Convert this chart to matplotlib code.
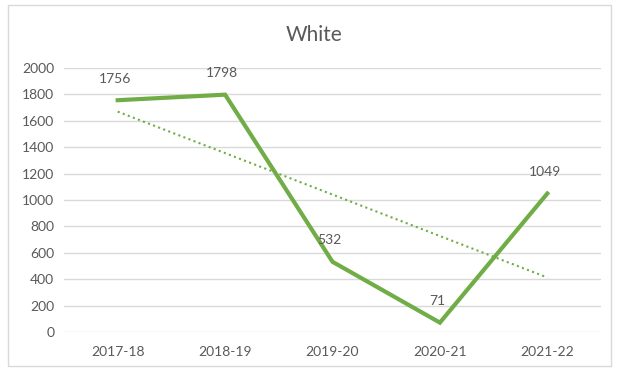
import numpy as np
import matplotlib.pyplot as plt
from matplotlib.patches import Rectangle

# Data
years = ['2017-18', '2018-19', '2019-20', '2020-21', '2021-22']
white = [1756, 1798, 532, 71, 1049]

green = '#70AD47'
text_grey = '#595959'

plt.rcParams['font.family'] = ['Lato', 'DejaVu Sans']

fig = plt.figure(figsize=(6.18, 3.71), dpi=100)
ax = fig.add_axes([64 / 618, 1 - 332 / 371, (601 - 64) / 618, (332 - 68) / 371])

x = np.arange(len(years))
ax.plot(x, white, color=green, linewidth=3.0, solid_joinstyle='miter', zorder=3)

# Linear trendline (as Excel adds it)
slope, intercept = np.polyfit(x, white, 1)
ax.plot(x, slope * x + intercept, color=green, linewidth=1.5,
        linestyle=(0, (1, 1.6)), zorder=2)

# Data labels above each point
for xi, v in zip(x, white):
    ax.annotate(str(v), (xi, v), xytext=(-2, 11), textcoords='offset points',
                ha='center', va='bottom', fontsize=10, color=text_grey, zorder=4)

ax.set_xlim(-0.5, len(years) - 0.5)
ax.set_ylim(0, 2000)
ax.set_yticks(range(0, 2001, 200))
ax.set_xticks(x)
ax.set_xticklabels(years)

ax.grid(axis='y', color='#D9D9D9', linewidth=1)
ax.set_axisbelow(True)
for s in ax.spines.values():
    s.set_visible(False)
ax.tick_params(axis='both', length=0, labelsize=10, labelcolor=text_grey)
ax.tick_params(axis='y', pad=7)
ax.tick_params(axis='x', pad=10)

fig.text(0.508, 1 - 35 / 371, 'White', ha='center', va='center',
         fontsize=15, color=text_grey)

# Chart border
fig.patches.append(Rectangle((8 / 618, 1 - 366 / 371), (611 - 8) / 618, (366 - 5) / 371,
                             transform=fig.transFigure, fill=False,
                             edgecolor='#D9D9D9', linewidth=1))

fig.savefig('out.png', dpi=100)
